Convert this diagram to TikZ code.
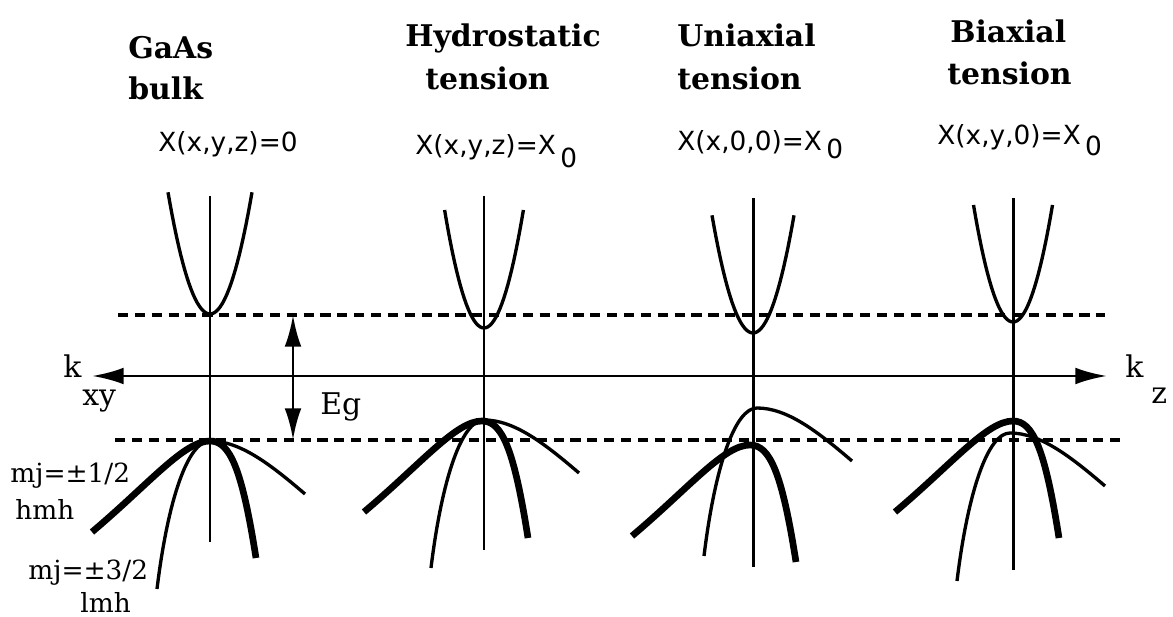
\documentclass[tikz,border=0pt]{standalone}
\usepackage{fontspec}
\setmainfont{DejaVu Serif}
\newfontfamily\strainfont{DejaVu Sans}
\usetikzlibrary{positioning, arrows.meta}

% valence bands, drawn relative to their top
\tikzset{
  heavyhole/.pic={
    \draw[line width=3.8pt] (-118,91) .. controls (-60,42) and (-26,0) .. (0,0)
          .. controls (20,0) and (32,28) .. (46,117);
  },
  lighthole/.pic={
    \draw[line width=1.9pt] (-53,148) .. controls (-42,58) and (-22,0) .. (0,0)
          .. controls (30,0) and (60,23) .. (95,53);
  }
}

\begin{document}
\begin{tikzpicture}[x=0.02cm, y=-0.02cm,
    axisline/.style={line width=1.7pt},
    cband/.style={line width=1.9pt},
    level/.style={line width=2pt, dash pattern=on 5.8pt off 3.8pt},
    bigtip/.style={{Latex[length=18pt, width=9.5pt]}-{Latex[length=18pt, width=9.5pt]}},
    title/.style={font=\fontsize{17}{19}\selectfont\bfseries, anchor=base west, inner sep=0pt},
    strain/.style={font=\strainfont\fontsize{15}{17}\selectfont, anchor=base west, inner sep=0pt},
    lbl/.style={font=\fontsize{15}{17}\selectfont, anchor=base west, inner sep=0pt},
    axlbl/.style={font=\fontsize{17}{19}\selectfont, anchor=base west, inner sep=0pt}]

  \useasboundingbox (0,0) rectangle (1173,617);

  % ── Headings ─────────────────────────────────────────────
  \node[title] (gaas) at (128,59) {GaAs};
  \node[title] (bulk) at (128,100) {bulk};
  \node[strain] (strainA) at (158,152) {X(x,y,z)=0};

  \node[title] (hydro) at (405,47) {Hydrostatic};
  \node[title] (tensB) at (425,90) {tension};
  \node[strain] (strainB) at (415,155) {X(x,y,z)=X\,\raisebox{-7pt}{0}};

  \node[title] (uni) at (677,47) {Uniaxial};
  \node[title] (tensC) at (677,90) {tension};
  \node[strain] (strainC) at (677,151) {X(x,0,0)=X\,\raisebox{-4.5pt}{0}};

  \node[title] (bi) at (950,43) {Biaxial};
  \node[title] (tensD) at (947,85) {tension};
  \node[strain] (strainD) at (937,145) {X(x,y,0)=X\,\raisebox{-6pt}{0}};

  % ── k axis and band edges ────────────────────────────────
  \coordinate (kxyend) at (92,376);
  \coordinate (kzend) at (1107,376);
  \draw[axisline, bigtip] (kxyend) -- (kzend);
  \node[axlbl] (kA) at (63,378) {k};
  \node[axlbl] (xy) at (82,406) {xy};
  \node[axlbl] (kB) at (1125,378) {k};
  \node[axlbl] (zz) at (1151,404) {z};

  \draw[level] (118,315) -- (1105,315);
  \draw[level] (115,440) -- (1122,440);

  \coordinate (cbm) at (293,315);
  \coordinate (vbm) at (293,440);
  \draw[axisline, bigtip] (cbm) -- (vbm);
  \node[axlbl] (eg) at (320,415) {Eg};

  % ── Gamma lines ──────────────────────────────────────────
  \draw[axisline] (210,196) -- (210,542);
  \draw[axisline] (484,196) -- (484,550);
  \draw[axisline] (753,198) -- (753,567);
  \draw[axisline] (1013,198) -- (1013,570);

  % ── Conduction bands ─────────────────────────────────────
  \draw[cband] plot[domain=-42:42, samples=41] ({210+\x},{314-0.069*\x*\x});
  \draw[cband] plot[domain=-39.4:39.4, samples=41] ({484+\x},{328-0.076*\x*\x});
  \draw[cband] plot[domain=-41:41, samples=41] ({753+\x},{333-0.070*\x*\x});
  \draw[cband] plot[domain=-39.5:39.5, samples=41] ({1013+\x},{322-0.075*\x*\x});

  % ── Valence bands ────────────────────────────────────────
  \pic at (210,441) {heavyhole};
  \pic at (210,441) {lighthole};
  \pic at (482,421) {heavyhole};
  \pic at (484,420) {lighthole};
  \pic at (750,445) {heavyhole};
  \pic at (757,408) {lighthole};
  \pic at (1013,421) {heavyhole};
  \pic at (1010,433) {lighthole};

  % ── Band labels ──────────────────────────────────────────
  \node[lbl] (mjA) at (10,483) {mj=±1/2};
  \node[lbl] (hmh) at (15,520) {hmh};
  \node[lbl] (mjB) at (28,580) {mj=±3/2};
  \node[lbl] (lmh) at (80,613) {lmh};
\end{tikzpicture}
\end{document}
